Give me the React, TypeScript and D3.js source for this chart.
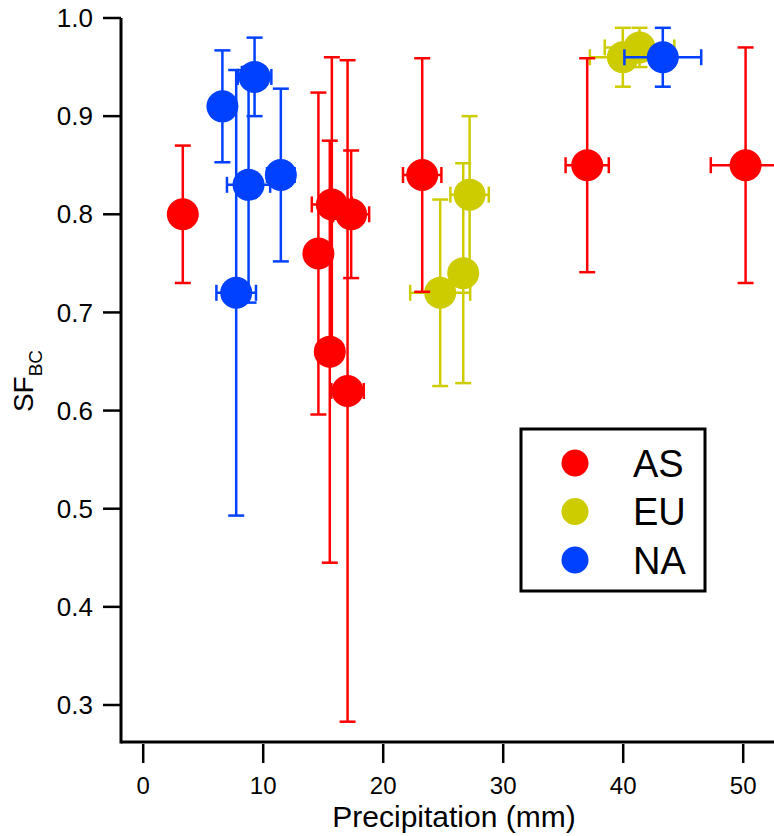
import * as d3 from 'd3';

// precipitation (mm), SF_BC, and error half-widths, per region
const asX = [3.3, 14.6, 15.55, 15.72, 17.03, 17.33, 23.25, 37.0, 50.2];
const asY = [0.8, 0.76, 0.66, 0.81, 0.62, 0.8, 0.84, 0.85, 0.85];
const asYErr = [0.07, 0.164, 0.215, 0.15, 0.337, 0.065, 0.119, 0.109, 0.12];
const asXErr = [0, 0, 1.0, 1.67, 1.35, 1.5, 1.6, 1.8, 2.9];

const euX = [24.75, 26.67, 27.2, 39.97, 41.36];
const euY = [0.72, 0.74, 0.82, 0.96, 0.97];
const euYErr = [0.095, 0.112, 0.08, 0.03, 0.02];
const euXErr = [2.5, 0.8, 1.6, 2.75, 2.9];

const naX = [6.6, 7.75, 8.78, 9.28, 11.47, 43.3];
const naY = [0.91, 0.72, 0.83, 0.94, 0.84, 0.96];
const naYErr = [0.057, 0.227, 0.12, 0.04, 0.088, 0.03];
const naXErr = [0, 1.65, 1.8, 1.4, 1.15, 3.2];

const xTicks = [0, 10, 20, 30, 40, 50];
const yTicks = [0.3, 0.4, 0.5, 0.6, 0.7, 0.8, 0.9, 1.0];

const seriesNames = ['AS', 'EU', 'NA'];
const seriesColors = ['#ff0000', '#cccc00', '#0040ff'];

const width = 774;
const height = 836;
const font = 'Liberation Sans, Arial, Helvetica, sans-serif';

const x = d3.scaleLinear().domain([-1.85, 52.6]).range([121, 774.4]);
const y = d3.scaleLinear().domain([0.2623, 1.0]).range([742, 18]);

const CAP = 8;
const R = 16;

function Series({ xs, ys, xe, ye, color }: { xs: number[]; ys: number[]; xe: number[]; ye: number[]; color: string }) {
  return (
    <g>
      {xs.map((d, i) => {
        const cx = x(d);
        const cy = y(ys[i]);
        const top = y(ys[i] + ye[i]);
        const bot = y(ys[i] - ye[i]);
        const left = x(d - xe[i]);
        const right = x(d + xe[i]);
        return (
          <g key={i} stroke={color} strokeWidth={2.5} fill="none">
            <line x1={cx} x2={cx} y1={top} y2={bot} />
            <line x1={cx - CAP} x2={cx + CAP} y1={top} y2={top} />
            <line x1={cx - CAP} x2={cx + CAP} y1={bot} y2={bot} />
            {xe[i] > 0 && (
              <>
                <line x1={left} x2={right} y1={cy} y2={cy} />
                <line x1={left} x2={left} y1={cy - CAP} y2={cy + CAP} />
                <line x1={right} x2={right} y1={cy - CAP} y2={cy + CAP} />
              </>
            )}
          </g>
        );
      })}
      {xs.map((d, i) => (
        <circle key={'m' + i} cx={x(d)} cy={y(ys[i])} r={R} fill={color} />
      ))}
    </g>
  );
}

export default function App() {
  const [x0, x1] = x.range();
  const [y0, y1] = y.range();
  return (
    <div style={{ position: 'absolute', left: 0, top: 0 }}>
      <svg width={width} height={height} style={{ display: 'block', background: '#fff' }} fontFamily={font}>
        <Series xs={euX} ys={euY} xe={euXErr} ye={euYErr} color={seriesColors[1]} />
        <Series xs={asX} ys={asY} xe={asXErr} ye={asYErr} color={seriesColors[0]} />
        <Series xs={naX} ys={naY} xe={naXErr} ye={naYErr} color={seriesColors[2]} />

        {/* axes */}
        <line x1={x0} x2={x0} y1={y1} y2={y0 + 1.5} stroke="#000" strokeWidth={3} />
        <line x1={x0} x2={x1} y1={y0} y2={y0} stroke="#000" strokeWidth={3} />
        {yTicks.map((t) => (
          <g key={t}>
            <line x1={x0 - 18} x2={x0} y1={y(t)} y2={y(t)} stroke="#000" strokeWidth={2.5} />
            <text x={x0 - 28} y={y(t)} dy="0.35em" textAnchor="end" fontSize={26}>
              {t.toFixed(1)}
            </text>
          </g>
        ))}
        {xTicks.map((t) => (
          <g key={t}>
            <line x1={x(t)} x2={x(t)} y1={y0 + 2} y2={y0 + 21} stroke="#000" strokeWidth={2.5} />
            <text x={x(t)} y={794} textAnchor="middle" fontSize={24}>
              {t}
            </text>
          </g>
        ))}
        <text x={454} y={827} textAnchor="middle" fontSize={30}>
          Precipitation (mm)
        </text>
        <text transform="translate(33,381) rotate(-90)" textAnchor="middle" fontSize={28}>
          SF<tspan fontSize={19} dy={9}>BC</tspan>
        </text>

        {/* legend */}
        <rect x={521} y={429} width={184} height={162} fill="#fff" stroke="#000" strokeWidth={3} />
        {seriesNames.map((n, i) => (
          <g key={n}>
            <circle cx={575} cy={463 + i * 48.5} r={13.5} fill={seriesColors[i]} />
            <text x={633} y={463 + i * 48.5} dy="0.36em" fontSize={38}>
              {n}
            </text>
          </g>
        ))}
      </svg>
    </div>
  );
}
